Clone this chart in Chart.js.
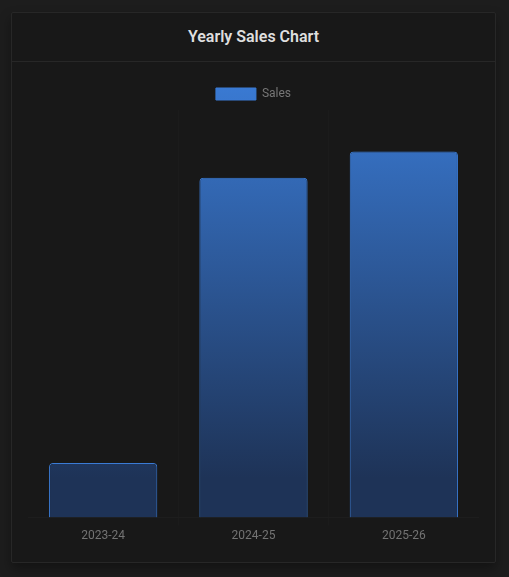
<!DOCTYPE html>
<html>
<head>
<meta charset="utf-8">
<script src="https://cdn.jsdelivr.net/npm/chart.js@4.4.1/dist/chart.umd.min.js"></script>
<style>
  html, body { margin: 0; padding: 0; background: #1d1d1d; }
  body { width: 509px; height: 577px; overflow: hidden; font-family: Roboto, "Noto Sans", sans-serif; }
  .card {
    position: absolute; left: 11px; top: 12px; width: 483px; height: 549px;
    background: #181818; border: 1px solid #272727; border-radius: 2px;
    box-shadow: 0 6px 12px rgba(0,0,0,0.35);
  }
  .card-header {
    height: 48px; line-height: 48px; text-align: center;
    border-bottom: 1px solid #272727;
    color: #dedede; font-size: 16px; font-weight: 600;
  }
  .card-body { padding: 16px; }
  .chart-box { position: relative; width: 451px; height: 468px; }
</style>
</head>
<body>
<div class="card">
  <div class="card-header">Yearly Sales Chart</div>
  <div class="card-body">
    <div class="chart-box"><canvas id="salesChart"></canvas></div>
  </div>
</div>
<script>
/* DATA */
const years = ["2023-24", "2024-25", "2025-26"];
const sales = [134000, 834000, 898000];
const yMax = 1000000;

const ctx = document.getElementById("salesChart").getContext("2d");

/* gradient: bright blue on top fading to navy */
const grad = ctx.createLinearGradient(0, 0, 0, 400);
grad.addColorStop(0, "rgba(58,123,213,1)");
grad.addColorStop(1, "rgba(30,51,87,1)");

new Chart(ctx, {
  type: "bar",
  data: {
    labels: years,
    datasets: [
      {
        label: "Sales",
        data: sales,
        backgroundColor: grad,
        borderColor: "#3a7bd5",
        borderWidth: 1,
        borderRadius: 4
      }
    ]
  },
  options: {
    responsive: true,
    maintainAspectRatio: false,
    animation: false,
    plugins: {
      legend: {
        position: "top",
        labels: { color: "#777", font: { family: "Roboto", size: 12 } }
      },
      tooltip: { enabled: false }
    },
    scales: {
      x: {
        grid: { color: "rgba(255,255,255,0.015)" },
        border: { color: "rgba(255,255,255,0.025)" },
        ticks: { color: "#737373", font: { family: "Roboto", size: 12 } }
      },
      y: {
        display: false,
        beginAtZero: true,
        max: yMax
      }
    }
  }
});
</script>
</body>
</html>
